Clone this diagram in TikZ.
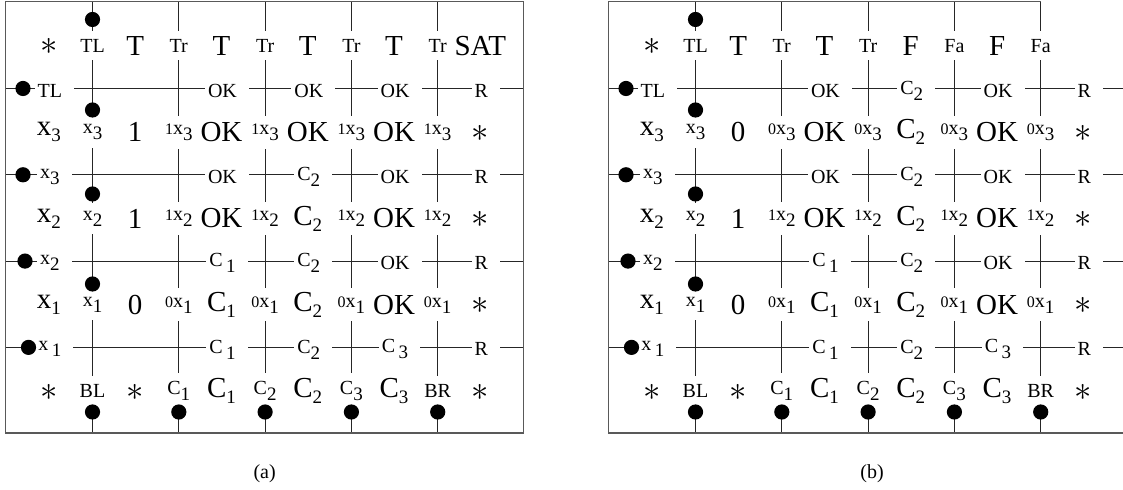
\documentclass[tikz,border=0pt]{standalone}
\usepackage{fontspec}
\usepackage{graphicx}
\setmainfont{Liberation Serif}
\newcommand\sbs[1]{\raisebox{-3pt}{\fontsize{9.5}{10}\selectfont #1}}
\newcommand\pfx[1]{{\fontsize{8}{8}\selectfont #1}}
\newcommand\hlpad[1]{#1\kern4.5pt}
\tikzset{
  gridln/.style={line width=0.5pt, black!85},
  frm/.style={line width=0.7pt, black!65},
  bigl/.style={inner sep=0pt, font=\fontsize{14.5}{16}\selectfont},
  astk/.style={inner sep=0pt, font=\fontsize{16}{16}\selectfont},
  vl/.style={fill=white, inner xsep=1pt, inner ysep=4pt, font=\fontsize{10}{12}\selectfont},
  hl/.style={fill=white, inner xsep=1.5pt, inner ysep=1pt, xshift=2.25pt, font=\fontsize{10}{12}\selectfont},
  blob/.style={fill=black},
  captxt/.style={font=\fontsize{10}{12}\selectfont}
}
\newcommand\drawpanel[5]{%
  \foreach \k in {0,...,4} \draw[gridln] ({92.5+86.3*\k},1.7) -- ({92.5+86.3*\k},433.2);
  \foreach \k in {0,...,3} \draw[gridln] (5.7,{88.5+86.3*\k}) -- (#5,{88.5+86.3*\k});
  \foreach \r/\k/\t in {#3} \node[vl] (#1v\r\k) at ({92.5+86.3*\k},{44.85+86.3*\r+1}) {\t};
  \foreach \h/\c/\t in {#4} \node[hl] (#1h\h\c) at ({48.85+86.3*\c+1},{88.5+86.3*\h+2}) {\hlpad{\t}};
  \foreach \r/\c/\t in {#2} \node[bigl] (#1b\r\c) at ({48.85+86.3*\c},{44.85+86.3*\r+1}) {\t};
  \foreach \r/\c in {0/0,1/5,2/5,3/5,4/0,4/1,4/5} \node[astk] (#1s\r\c) at ({48.85+86.3*\c},{44.85+86.3*\r+2}) {$\ast$};
  \foreach \y in {19.5,110,194,284} \fill[blob] (92.5,\y) circle[radius=3.8pt];
  \foreach \k in {0,...,4} \fill[blob] ({92.5+86.3*\k},412) circle[radius=3.8pt];
  \foreach \x/\h in {23/0,23/1,25/2,28.5/3} \fill[blob] (\x,{88.5+86.3*\h}) circle[radius=3.8pt];
}
\begin{document}
\begin{tikzpicture}[x=0.5pt,y=-0.5pt]
\useasboundingbox (0,0) rectangle (1123,490);
% panel (a)
\drawpanel{a}%
 {0/1/T,0/2/T,0/3/T,0/4/T,0/5/SAT,
  1/0/x\sbs{3},1/1/1,1/2/OK,1/3/OK,1/4/OK,
  2/0/x\sbs{2},2/1/1,2/2/OK,2/3/C\sbs{2},2/4/OK,
  3/0/x\sbs{1},3/1/0,3/2/C\sbs{1},3/3/C\sbs{2},3/4/OK,
  4/2/C\sbs{1},4/3/C\sbs{2},4/4/C\sbs{3}}%
 {0/0/TL,0/1/Tr,0/2/Tr,0/3/Tr,0/4/Tr,
  1/0/x\sbs{3},1/1/\pfx{1}x\sbs{3},1/2/\pfx{1}x\sbs{3},1/3/\pfx{1}x\sbs{3},1/4/\pfx{1}x\sbs{3},
  2/0/x\sbs{2},2/1/\pfx{1}x\sbs{2},2/2/\pfx{1}x\sbs{2},2/3/\pfx{1}x\sbs{2},2/4/\pfx{1}x\sbs{2},
  3/0/x\sbs{1},3/1/\pfx{0}x\sbs{1},3/2/\pfx{0}x\sbs{1},3/3/\pfx{0}x\sbs{1},3/4/\pfx{0}x\sbs{1},
  4/0/BL,4/1/C\sbs{1},4/2/C\sbs{2},4/3/C\sbs{3},4/4/BR}%
 {0/0/TL,0/2/OK,0/3/OK,0/4/OK,0/5/R,
  1/0/x\sbs{3},1/2/OK,1/3/C\sbs{2},1/4/OK,1/5/R,
  2/0/x\sbs{2},2/2/C\,\sbs{1},2/3/C\sbs{2},2/4/OK,2/5/R,
  3/0/x\,\sbs{1},3/2/C\,\sbs{1},3/3/C\sbs{2},3/4/C\,\sbs{3},3/5/R}%
 {523.5}
\draw[frm] (5.7,1.7) rectangle (523.5,433.2);
\node[captxt] (capa) at (264.6,474) {(a)};
% panel (b)
\begin{scope}[xshift=301.5pt]
\drawpanel{b}%
 {0/1/T,0/2/T,0/3/F,0/4/F,
  1/0/x\sbs{3},1/1/0,1/2/OK,1/3/C\sbs{2},1/4/OK,
  2/0/x\sbs{2},2/1/1,2/2/OK,2/3/C\sbs{2},2/4/OK,
  3/0/x\sbs{1},3/1/0,3/2/C\sbs{1},3/3/C\sbs{2},3/4/OK,
  4/2/C\sbs{1},4/3/C\sbs{2},4/4/C\sbs{3}}%
 {0/0/TL,0/1/Tr,0/2/Tr,0/3/Fa,0/4/Fa,
  1/0/x\sbs{3},1/1/\pfx{0}x\sbs{3},1/2/\pfx{0}x\sbs{3},1/3/\pfx{0}x\sbs{3},1/4/\pfx{0}x\sbs{3},
  2/0/x\sbs{2},2/1/\pfx{1}x\sbs{2},2/2/\pfx{1}x\sbs{2},2/3/\pfx{1}x\sbs{2},2/4/\pfx{1}x\sbs{2},
  3/0/x\sbs{1},3/1/\pfx{0}x\sbs{1},3/2/\pfx{0}x\sbs{1},3/3/\pfx{0}x\sbs{1},3/4/\pfx{0}x\sbs{1},
  4/0/BL,4/1/C\sbs{1},4/2/C\sbs{2},4/3/C\sbs{3},4/4/BR}%
 {0/0/TL,0/2/OK,0/3/C\sbs{2},0/4/OK,0/5/R,
  1/0/x\sbs{3},1/2/OK,1/3/C\sbs{2},1/4/OK,1/5/R,
  2/0/x\sbs{2},2/2/C\,\sbs{1},2/3/C\sbs{2},2/4/OK,2/5/R,
  3/0/x\,\sbs{1},3/2/C\,\sbs{1},3/3/C\sbs{2},3/4/C\,\sbs{3},3/5/R}%
 {522}
\draw[frm] (437.7,1.7) -- (5.7,1.7) -- (5.7,433.2) -- (522,433.2);
\end{scope}
\node[captxt] (capb) at (872,474) {(b)};
\end{tikzpicture}
\end{document}
